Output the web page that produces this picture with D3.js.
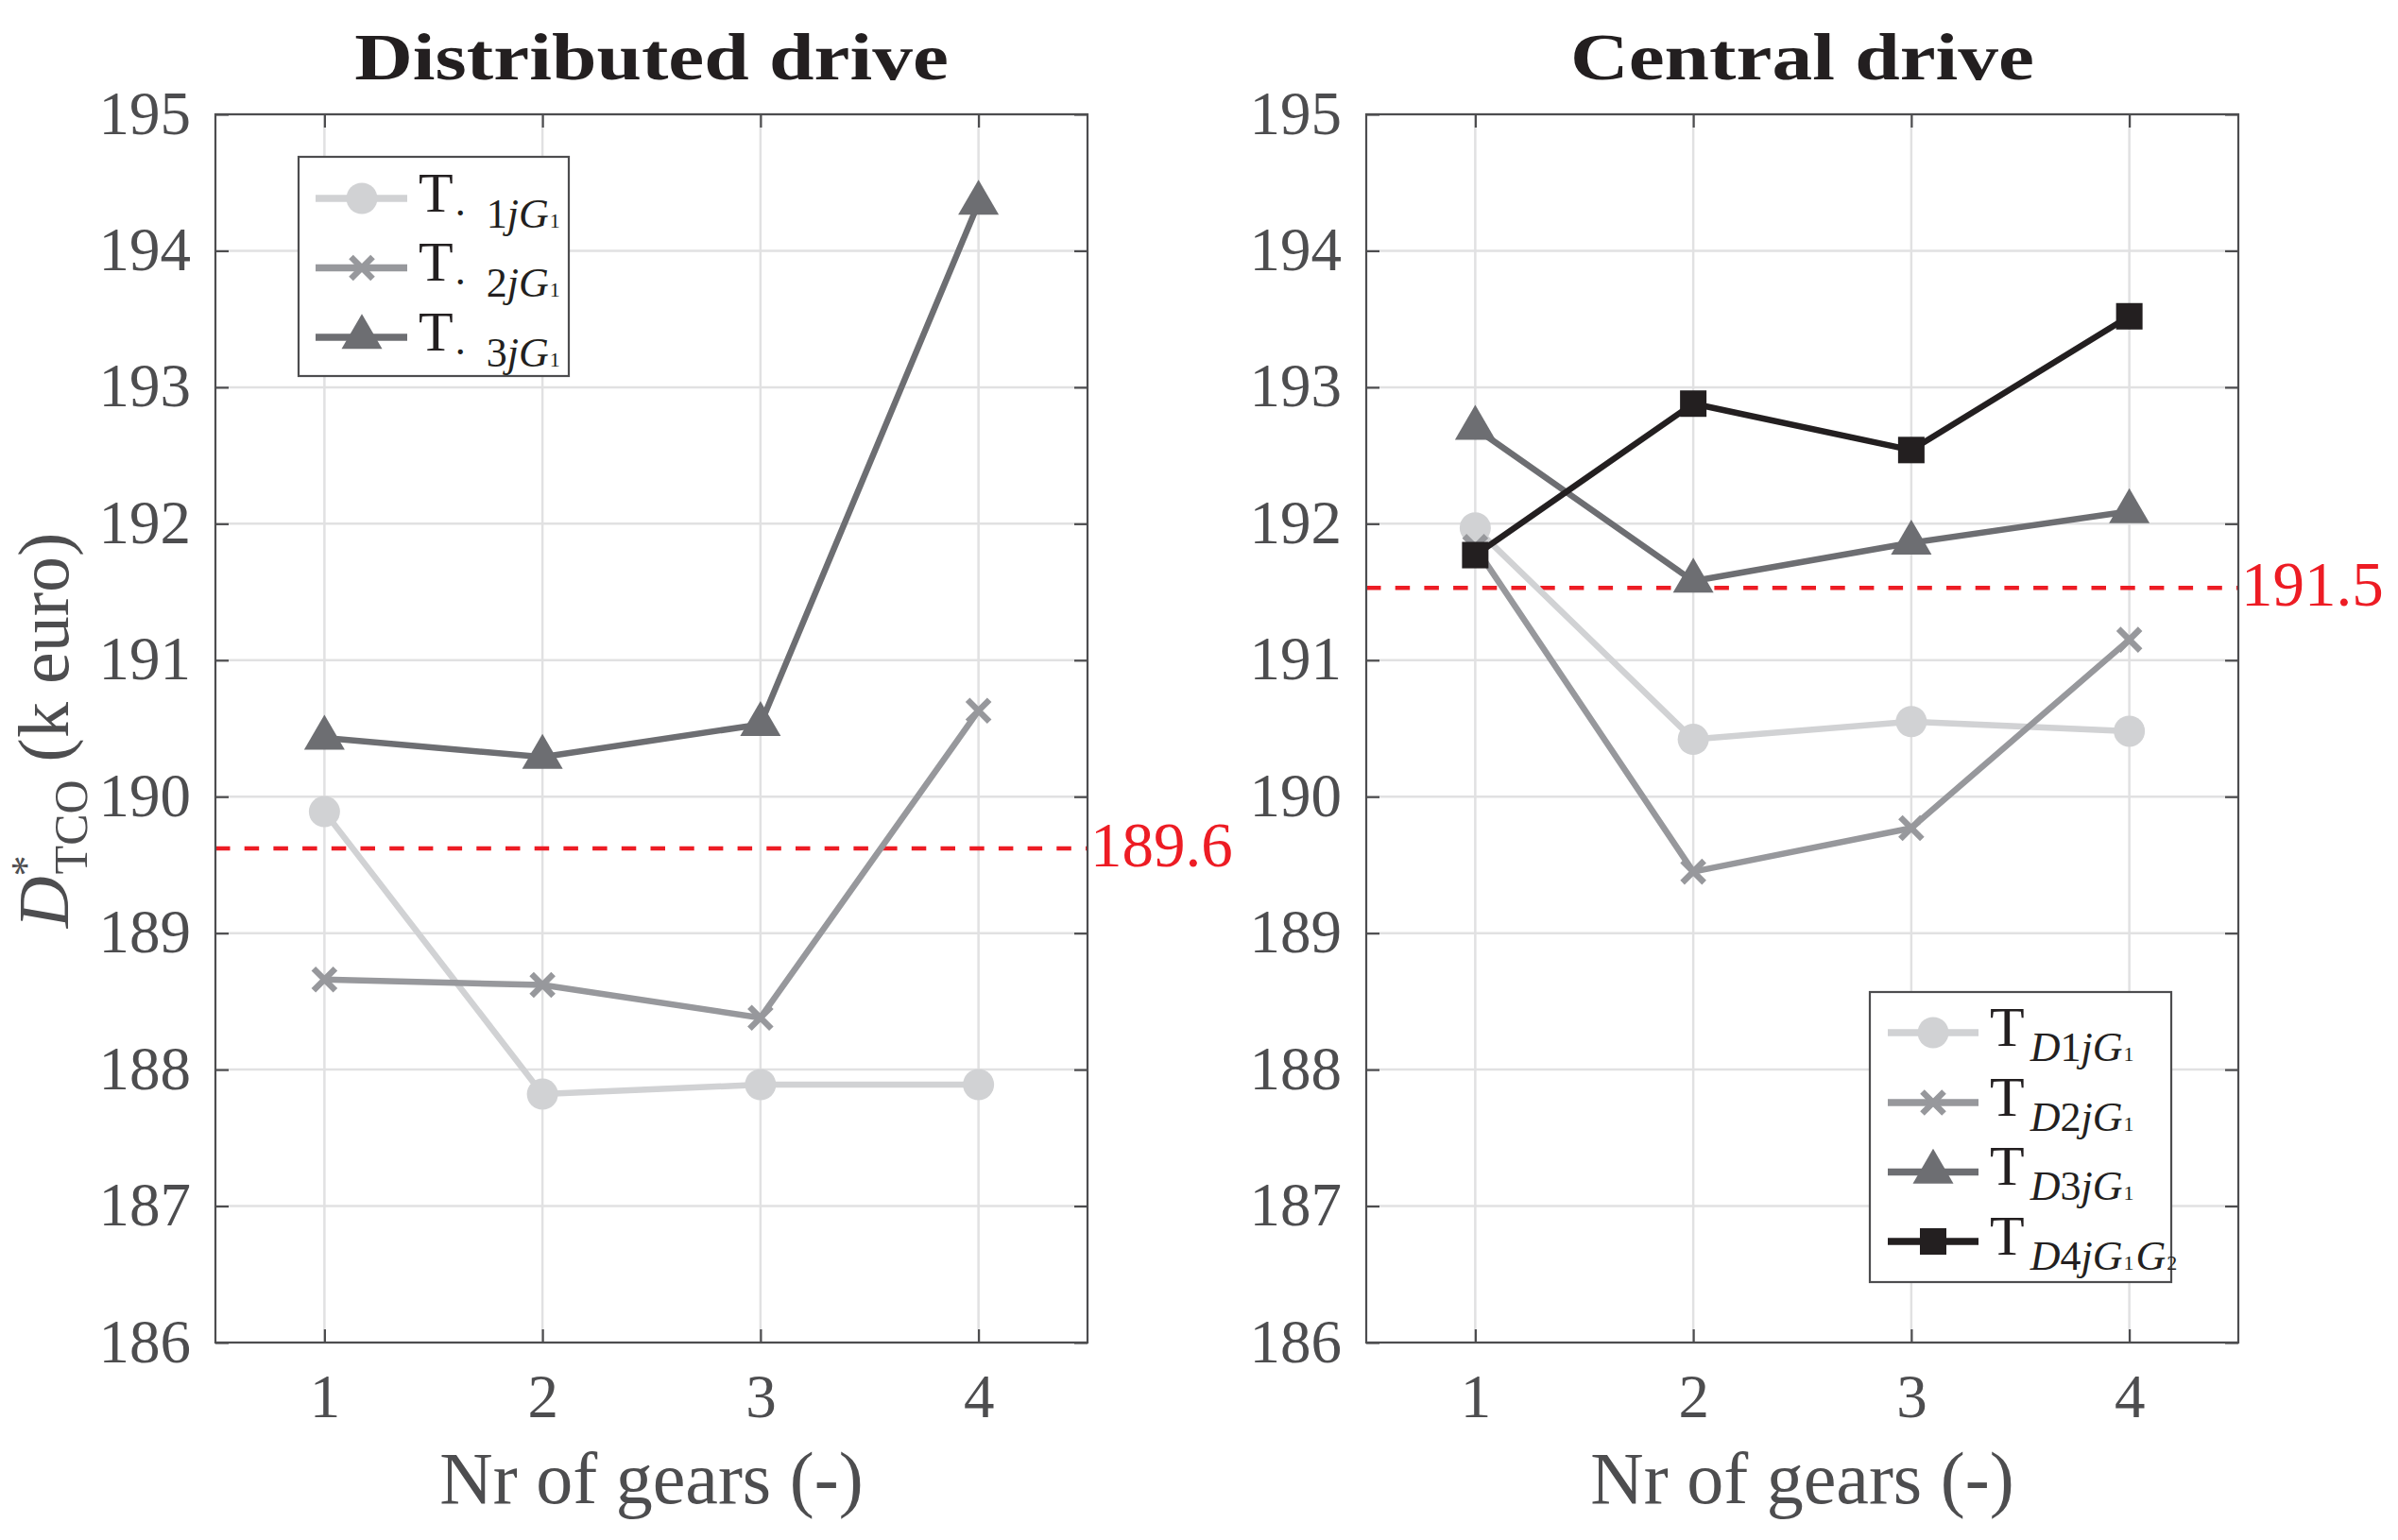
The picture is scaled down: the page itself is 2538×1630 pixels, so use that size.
<!DOCTYPE html>
<html><head><meta charset="utf-8">
<script src="https://cdn.jsdelivr.net/npm/d3@7/dist/d3.min.js"></script>
<style>html,body{margin:0;padding:0;background:#fff;}svg{display:block;}</style>
</head><body>
<svg id="chart" width="2538" height="1630"></svg>
<script>
// ---------------- data ----------------
const gears = [1, 2, 3, 4];
const yTicks = [186, 187, 188, 189, 190, 191, 192, 193, 194, 195];
const panelTitles = ["Distributed drive", "Central drive"];
const xLabel = "Nr of gears (-)";

// Distributed drive
const distT1 = [189.89, 187.82, 187.89, 187.89];
const distT2 = [188.66, 188.62, 188.38, 190.63];
const distT3 = [190.43, 190.29, 190.53, 194.35];
// Central drive
const centD1 = [191.97, 190.42, 190.55, 190.48];
const centD2 = [191.83, 189.45, 189.77, 191.15];
const centD3 = [192.70, 191.58, 191.86, 192.09];
const centD4 = [191.77, 192.88, 192.54, 193.52];

const thresholdValues = [189.62, 191.53];
const thresholdLabels = ["189.6", "191.5"];

// ---------------- styles ----------------
const FONT = "'Liberation Serif','Times New Roman',serif";
const AX = "#4d4d4f";
const TXT = "#231f20";
const RED = "#ed1c24";
const GRID = "#e1e1e2";
const colors = ["#d1d2d4", "#97989c", "#6d6e72", "#231f20"];
const markers = ["circle", "cross", "triangle", "square"];

const svg = d3.select("#chart");
const plotTop = 121, plotBottom = 1421;
const panels = [
  {left: 228, right: 1151, series: [distT1, distT2, distT3], thr: 0,
   legend: {x0: 316, x1: 602, y0: 166, y1: 398, rows: [210, 283.5, 357], lineX: [334, 431], mx: 383, tx: 443,
     labels: [["1","1"], ["2","1"], ["3","1"]], dist: true}},
  {left: 1446, right: 2369, series: [centD1, centD2, centD3, centD4], thr: 1,
   legend: {x0: 1979, x1: 2298, y0: 1050, y1: 1357, rows: [1093, 1167, 1240.5, 1314], lineX: [1998, 2094], mx: 2046, tx: 2106,
     labels: [["D1","1"], ["D2","1"], ["D3","1"], ["D4","1","2"]], dist: false}}
];

function drawMarker(g, type, cx, cy, color) {
  if (type === "circle") {
    g.append("circle").attr("cx", cx).attr("cy", cy).attr("r", 16.5).attr("fill", color);
  } else if (type === "cross") {
    const s = 11.5;
    g.append("path").attr("d", `M${cx-s},${cy-s}L${cx+s},${cy+s}M${cx-s},${cy+s}L${cx+s},${cy-s}`)
      .attr("stroke", color).attr("stroke-width", 6.5).attr("fill", "none");
  } else if (type === "triangle") {
    const w = 21.5, h = 37;
    g.append("path").attr("d", `M${cx},${cy - h*2/3}L${cx+w},${cy + h/3}L${cx-w},${cy + h/3}Z`).attr("fill", color);
  } else if (type === "square") {
    g.append("rect").attr("x", cx-14).attr("y", cy-14).attr("width", 28).attr("height", 28).attr("fill", color);
  }
}

panels.forEach((p, pi) => {
  const x = d3.scaleLinear().domain([0.5, 4.5]).range([p.left, p.right]);
  const y = d3.scaleLinear().domain([186, 195]).range([plotBottom, plotTop]);
  const g = svg.append("g");

  // grid
  g.selectAll(".gy").data(yTicks).enter().append("line")
    .attr("x1", p.left).attr("x2", p.right).attr("y1", d => y(d)).attr("y2", d => y(d))
    .attr("stroke", GRID).attr("stroke-width", 2.5);
  g.selectAll(".gx").data(gears).enter().append("line")
    .attr("y1", plotTop).attr("y2", plotBottom).attr("x1", d => x(d)).attr("x2", d => x(d))
    .attr("stroke", GRID).attr("stroke-width", 2.5);

  // threshold
  const tv = thresholdValues[p.thr];
  g.append("line").attr("x1", p.left).attr("x2", p.right).attr("y1", y(tv)).attr("y2", y(tv))
    .attr("stroke", RED).attr("stroke-width", 4.5).attr("stroke-dasharray", "15.5,15.2");
  g.append("text").attr("x", p.right + 3).attr("y", y(tv) + 19)
    .attr("font-family", FONT).attr("font-size", 67).attr("fill", RED).text(thresholdLabels[p.thr]);

  // series
  const line = d3.line().x((d, i) => x(gears[i])).y(d => y(d));
  p.series.forEach((s, si) => {
    const sg = g.append("g");
    sg.append("path").attr("d", line(s)).attr("fill", "none").attr("stroke", colors[si])
      .attr("stroke-width", 6.5).attr("stroke-linejoin", "round");
    s.forEach((v, i) => drawMarker(sg, markers[si], x(gears[i]), y(v), colors[si]));
  });

  // axes box & ticks
  const tickLen = 14;
  const ax = g.append("g").attr("font-family", FONT);
  const aL = ax.append("g").attr("transform", `translate(${p.left},0)`)
    .call(d3.axisLeft(y).tickValues(yTicks).tickSize(-tickLen).tickPadding(26).tickFormat(d3.format("d")));
  const aR = ax.append("g").attr("transform", `translate(${p.right},0)`)
    .call(d3.axisRight(y).tickValues(yTicks).tickSize(-tickLen).tickFormat(""));
  const aB = ax.append("g").attr("transform", `translate(0,${plotBottom})`)
    .call(d3.axisBottom(x).tickValues(gears).tickSize(-tickLen).tickPadding(33).tickFormat(d3.format("d")));
  const aT = ax.append("g").attr("transform", `translate(0,${plotTop})`)
    .call(d3.axisTop(x).tickValues(gears).tickSize(-tickLen).tickFormat(""));
  [aL, aR, aB, aT].forEach(a => {
    a.selectAll(".domain").remove();
    a.selectAll(".tick line").attr("stroke", AX).attr("stroke-width", 2.2);
    a.selectAll(".tick text").attr("fill", AX).attr("font-size", 65).attr("font-family", FONT);
  });
  ax.append("rect").attr("x", p.left).attr("y", plotTop).attr("width", p.right - p.left).attr("height", plotBottom - plotTop)
    .attr("fill", "none").attr("stroke", AX).attr("stroke-width", 2.2);
  aL.selectAll(".tick text").attr("dy", null).attr("y", 20);
  aB.selectAll(".tick text").attr("dy", null).attr("y", 79);

  // title
  const cx = (p.left + p.right) / 2;
  svg.append("text").attr("transform", `translate(${cx},84) scale(1.22,1)`)
    .attr("text-anchor", "middle").attr("font-family", FONT).attr("font-weight", "bold")
    .attr("font-size", 70).attr("fill", TXT).text(panelTitles[pi]);

  // x label
  svg.append("text").attr("x", cx).attr("y", 1591).attr("text-anchor", "middle")
    .attr("font-family", FONT).attr("font-size", 78).attr("fill", AX).text(xLabel);

  // legend
  const L = p.legend;
  const lg = svg.append("g");
  lg.append("rect").attr("x", L.x0).attr("y", L.y0).attr("width", L.x1 - L.x0).attr("height", L.y1 - L.y0)
    .attr("fill", "#fff").attr("stroke", "#4d4d4f").attr("stroke-width", 2.2);
  L.rows.forEach((ry, ri) => {
    lg.append("line").attr("x1", L.lineX[0]).attr("x2", L.lineX[1]).attr("y1", ry).attr("y2", ry)
      .attr("stroke", colors[ri]).attr("stroke-width", 7.5);
    drawMarker(lg, markers[ri], L.mx, ry, colors[ri]);
    const t = lg.append("text").attr("x", L.tx).attr("y", ry + 13.5)
      .attr("font-family", FONT).attr("font-size", 60).attr("fill", TXT);
    t.append("tspan").text("T");
    const lab = L.labels[ri];
    if (L.dist) {
      t.append("tspan").attr("font-size", 44).attr("dy", 4).attr("dx", 2).text(".");
      t.append("tspan").attr("font-size", 44).attr("dy", 13).attr("dx", 22).text(lab[0]);
    } else {
      t.append("tspan").attr("font-size", 44).attr("font-style", "italic").attr("dy", 16).attr("dx", 6).text(lab[0][0]);
      t.append("tspan").attr("font-size", 44).text(lab[0].slice(1));
    }
    t.append("tspan").attr("font-size", 44).attr("font-style", "italic").text("j");
    t.append("tspan").attr("font-size", 44).attr("font-style", "italic").text("G");
    t.append("tspan").attr("font-size", 22).attr("dx", 1).text(lab[1]);
    if (lab.length > 2) {
      t.append("tspan").attr("font-size", 44).attr("font-style", "italic").attr("dx", 2).text("G");
      t.append("tspan").attr("font-size", 22).attr("dx", 1).text(lab[2]);
    }
  });
});

// y label (left panel)
const yl = svg.append("text").attr("transform", "translate(72,773) rotate(-90)")
  .attr("text-anchor", "middle").attr("font-family", FONT).attr("font-size", 76).attr("fill", AX);
yl.append("tspan").attr("font-style", "italic").text("D");
yl.append("tspan").attr("font-size", 44).attr("dy", -30).attr("dx", 0).text("*");
yl.append("tspan").attr("font-size", 50).attr("dy", 50).attr("dx", -20).text("TCO");
yl.append("tspan").attr("dy", -20).attr("dx", 0).text(" (k euro)");
</script>
</body></html>
